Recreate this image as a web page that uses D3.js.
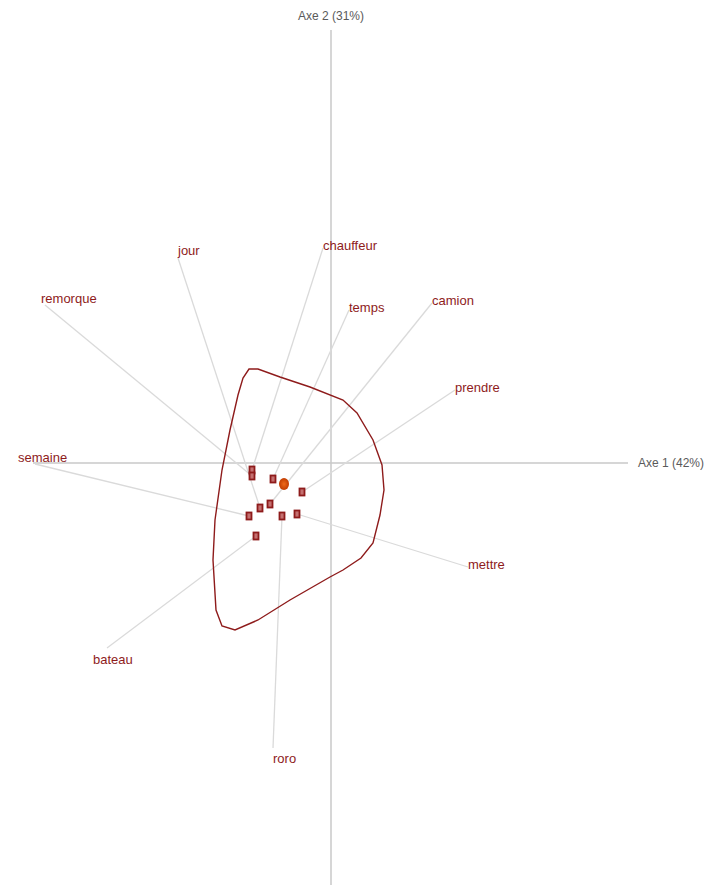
<!DOCTYPE html>
<html>
<head>
<meta charset="utf-8">
<script src="https://cdn.jsdelivr.net/npm/d3@7"></script>
<style>
  html, body { margin: 0; padding: 0; background: #fff; }
  svg { display: block; }
  text { font-family: "Liberation Sans", Arial, sans-serif; }
</style>
</head>
<body>
<svg id="chart" width="714" height="890"></svg>
<script>
// Word coordinates on the factorial plane (Axe 1, Axe 2)
const words  = ["jour", "chauffeur", "temps", "camion", "remorque", "prendre", "semaine", "mettre", "bateau", "roro"];
const wordX  = [-1.53, -0.08, 0.18, 1.01, -2.86, 1.24, -2.96, 1.37, -2.24, -0.58];
const wordY  = [ 2.05,  2.15, 1.53, 1.60,  1.58, 0.73, -0.01, -1.04, -1.85, -2.85];

// Matching points of each word in the second cloud
const pointX = [-0.71, -0.79, -0.58, -0.61, -0.79, -0.29, -0.82, -0.34, -0.75, -0.49];
const pointY = [-0.45, -0.07, -0.16, -0.41, -0.13, -0.29, -0.53, -0.51, -0.73, -0.53];

// Mean point
const meanX = -0.47;
const meanY = -0.21;

// Contour around the point cloud
const hullX = [-0.82, -0.73, -0.51, -0.21, 0.12, 0.26, 0.42, 0.51, 0.53, 0.49, 0.42, 0.30, 0.12, -0.01, -0.41, -0.73, -0.96, -1.09, -1.15, -1.18, -1.16, -1.09, -1.01, -0.93, -0.88];
const hullY = [ 0.94,  0.94,  0.86,  0.76, 0.63, 0.50, 0.23, -0.02, -0.27, -0.52, -0.80, -0.95, -1.07, -1.14, -1.37, -1.57, -1.67, -1.63, -1.47, -0.97, -0.57, -0.07, 0.33, 0.68, 0.85];

// Axis titles and extents
const axisTitles = ["Axe 1 (42%)", "Axe 2 (31%)"];
const axis1Extent = [-2.98, 2.97];
const axis2Extent = [4.33, -4.22];

const svg = d3.select("#chart");
const x = d3.scaleLinear().domain([-3, 3]).range([31, 631]);
const y = d3.scaleLinear().domain([4.3, -4.2]).range([33, 883]);

const red = "#8e1b1b";
const axisGrey = "#c9c9c9";

// Axes
svg.append("line")
  .attr("x1", x(axis1Extent[0])).attr("x2", x(axis1Extent[1]))
  .attr("y1", y(0)).attr("y2", y(0))
  .attr("stroke", axisGrey).attr("stroke-width", 1.5);
svg.append("line")
  .attr("x1", x(0)).attr("x2", x(0))
  .attr("y1", y(axis2Extent[0])).attr("y2", y(axis2Extent[1]))
  .attr("stroke", axisGrey).attr("stroke-width", 1.5);

svg.append("text")
  .attr("x", x(axis1Extent[1]) + 10).attr("y", y(0) + 4)
  .attr("font-size", 12).attr("fill", "#5a5a5a")
  .text(axisTitles[0]);
svg.append("text")
  .attr("x", x(0)).attr("y", 20)
  .attr("text-anchor", "middle")
  .attr("font-size", 12).attr("fill", "#5a5a5a")
  .text(axisTitles[1]);

const rows = words.map((w, i) => ({
  word: w, wx: wordX[i], wy: wordY[i], px: pointX[i], py: pointY[i]
}));

// Links from each word to its point
svg.append("g").selectAll("line").data(rows).join("line")
  .attr("x1", d => x(d.wx)).attr("y1", d => y(d.wy))
  .attr("x2", d => x(d.px)).attr("y2", d => y(d.py))
  .attr("stroke", "#dadada").attr("stroke-width", 1.3);

// Contour
const hull = hullX.map((v, i) => [v, hullY[i]]);
svg.append("path")
  .datum(hull)
  .attr("d", d3.line().x(d => x(d[0])).y(d => y(d[1])).curve(d3.curveLinearClosed))
  .attr("fill", "none").attr("stroke", red).attr("stroke-width", 1.4);

// Points
svg.append("g").selectAll("rect").data(rows).join("rect")
  .attr("x", d => x(d.px) - 2.5).attr("y", d => y(d.py) - 3.5)
  .attr("width", 5).attr("height", 7)
  .attr("fill", "#c47070").attr("stroke", red).attr("stroke-width", 1.8);

// Mean point
const grad = svg.append("defs").append("radialGradient").attr("id", "meanGrad");
grad.append("stop").attr("offset", "0%").attr("stop-color", "#ee6a1a");
grad.append("stop").attr("offset", "100%").attr("stop-color", "#c23c00");
svg.append("ellipse")
  .attr("cx", x(meanX)).attr("cy", y(meanY))
  .attr("rx", 5).attr("ry", 6)
  .attr("fill", "url(#meanGrad)");

// Word labels
const nudge = { semaine: [-17, -2], bateau: [-14, 16], roro: [0, 15], jour: [0, -3], remorque: [-4, -2] };
svg.append("g").selectAll("text").data(rows).join("text")
  .attr("x", d => x(d.wx) + (nudge[d.word] ? nudge[d.word][0] : 0))
  .attr("y", d => y(d.wy) + (nudge[d.word] ? nudge[d.word][1] : 2))
  .attr("font-size", 13).attr("fill", red)
  .text(d => d.word);
</script>
</body>
</html>
